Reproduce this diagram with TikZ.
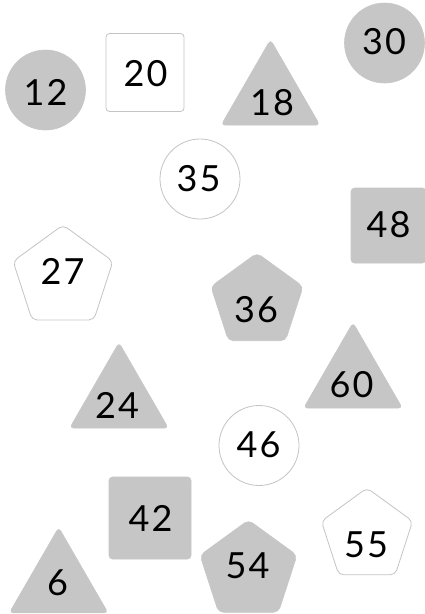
\documentclass[tikz,border=0pt]{standalone}
\usepackage{fontspec}
\setmainfont{Lato}[LetterSpace=6]
\usetikzlibrary{shapes.geometric}
\definecolor{shapegray}{HTML}{C6C6C6}
\definecolor{edgegray}{HTML}{C4C4C4}
\begin{document}
\begin{tikzpicture}[x=1pt,y=-1pt,
  base/.style={inner sep=0pt,outer sep=0pt},
  gfill/.style={base,fill=shapegray,draw=shapegray,line width=0.6pt},
  wfill/.style={base,fill=white,draw=edgegray,line width=0.8pt},
  circ/.style={circle,minimum size=80pt},
  sq/.style={rectangle,rounded corners=3.5pt},
  tri/.style={regular polygon,regular polygon sides=3,minimum size=114pt,rounded corners=4pt},
  pent/.style={regular polygon,regular polygon sides=5,rounded corners=5pt},
  num/.style={inner sep=0pt,font=\fontsize{36}{40}\selectfont}
]
\useasboundingbox (0,0) rectangle (424,614);
% shapes
\node[gfill,circ] (c12) at (45.5,90) {};
\node[wfill,sq,minimum size=78pt] (s20) at (145,72.5) {};
\node[gfill,tri] (t18) at (270.5,96.6) {};
\node[gfill,circ] (c30) at (384.5,43) {};
\node[wfill,circ] (c35) at (200,179) {};
\node[gfill,sq,minimum size=75pt] (s48) at (388.5,225.5) {};
\node[wfill,pent,minimum size=105pt] (p27) at (63,277.5) {};
\node[gfill,pent,minimum size=97pt] (p36) at (257,301.5) {};
\node[gfill,tri] (t60) at (353,379.6) {};
\node[gfill,tri] (t24) at (119,399.6) {};
\node[wfill,circ] (c46) at (259,445.5) {};
\node[gfill,sq,minimum size=82pt] (s42) at (150,518) {};
\node[gfill,tri] (t6) at (58.7,584.4) {};
\node[gfill,pent,minimum size=102pt] (p54) at (248.5,571) {};
\node[wfill,pent,minimum size=96pt] (p55) at (367,536) {};
% numbers
\node[num] (n12) at (45.5,92) {12};
\node[num] (n20) at (145.5,73.5) {20};
\node[num] (n18) at (272,102.5) {18};
\node[num] (n30) at (384,41.5) {30};
\node[num] (n35) at (198.5,179) {35};
\node[num] (n48) at (388.5,225) {48};
\node[num] (n27) at (62.5,271) {27};
\node[num] (n36) at (256,309.5) {36};
\node[num] (n60) at (351.5,385) {60};
\node[num] (n24) at (117,405) {24};
\node[num] (n46) at (258.5,445) {46};
\node[num] (n42) at (150.5,518.5) {42};
\node[num] (n6) at (57.5,583) {6};
\node[num] (n54) at (247.5,565.5) {54};
\node[num] (n55) at (366,545) {55};
\end{tikzpicture}
\end{document}
